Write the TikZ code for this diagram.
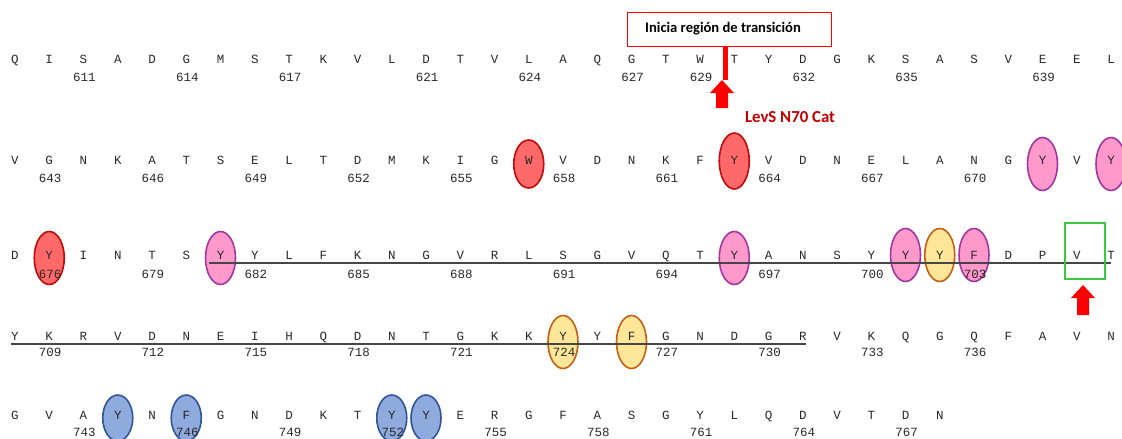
\documentclass[tikz,border=0pt]{standalone}
\usepackage{fontspec}
\setmonofont{Liberation Mono}
\newfontfamily\calib{Carlito}
\usetikzlibrary{shapes.geometric,calc}
\pgfdeclarelayer{bg}
\pgfsetlayers{bg,main}
\definecolor{seqgray}{RGB}{40,40,40}
\definecolor{redfill}{RGB}{255,105,105}
\definecolor{redline}{RGB}{192,10,10}
\definecolor{pinkfill}{RGB}{255,153,204}
\definecolor{pinkline}{RGB}{160,55,160}
\definecolor{orfill}{RGB}{255,230,153}
\definecolor{orline}{RGB}{197,95,20}
\definecolor{blfill}{RGB}{143,170,220}
\definecolor{blline}{RGB}{47,85,151}
\definecolor{grline}{RGB}{60,200,60}
\definecolor{arrred}{RGB}{255,0,0}
\definecolor{darkred}{RGB}{192,0,0}
\definecolor{linegray}{RGB}{70,70,70}
\begin{document}
\begin{tikzpicture}[x=1pt,y=-1pt,
  aa/.style={font=\ttfamily\fontsize{12.5}{14}\selectfont, text=seqgray, inner sep=0pt, text height=7.2pt, text depth=0pt, anchor=center},
  num/.style={aa},
  ell/.style={ellipse, line width=1.6pt, minimum width=30pt, minimum height=53pt, inner sep=0pt},
  redell/.style={ell, fill=redfill, draw=redline},
  pinkell/.style={ell, fill=pinkfill, draw=pinkline},
  orell/.style={ell, fill=orfill, draw=orline},
  blell/.style={ell, fill=blfill, draw=blline},
  uline/.style={draw=linegray, line width=1.4pt},
  tagbox/.style={draw=red, line width=0.9pt, minimum width=204pt, minimum height=34pt, inner sep=0pt},
  tagtext/.style={inner sep=0pt, font=\calib\bfseries\fontsize{14.6}{16}\selectfont},
  greenbox/.style={draw=grline, line width=1.6pt, minimum width=40pt, minimum height=56pt, inner sep=0pt},
  blockarrow/.style={fill=arrred, draw=none}
]
\useasboundingbox (0,0) rectangle (1122,439);

% row 1
\foreach \c [count=\i from 0] in {Q,I,S,A,D,G,M,S,T,K,V,L,D,T,V,L,A,Q,G,T,W,T,Y,D,G,K,S,A,S,V,E,E,L}
  \node[aa] (r1c\i) at ({15+34.25*\i},60) {\c};
\foreach \i/\n in {2/611,5/614,8/617,12/621,15/624,18/627,20/629,23/632,26/635,30/639}
  \node[num] (n1c\i) at ({16+34.25*\i},78) {\n};

% row 2
\foreach \c [count=\i from 0] in {V,G,N,K,A,T,S,E,L,T,D,M,K,I,G,W,V,D,N,K,F,Y,V,D,N,E,L,A,N,G,Y,V,Y}
  \node[aa] (r2c\i) at ({15+34.25*\i},161) {\c};
\foreach \i/\n in {1/643,4/646,7/649,10/652,13/655,16/658,19/661,22/664,25/667,28/670}
  \node[num] (n2c\i) at ({16+34.25*\i},179) {\n};

% row 3
\foreach \c [count=\i from 0] in {D,Y,I,N,T,S,Y,Y,L,F,K,N,G,V,R,L,S,G,V,Q,T,Y,A,N,S,Y,Y,Y,F,D,P,V,T}
  \node[aa] (r3c\i) at ({15+34.25*\i},256) {\c};
\foreach \i/\n in {1/676,4/679,7/682,10/685,13/688,16/691,19/694,22/697,25/700,28/703}
  \node[num] (n3c\i) at ({16+34.25*\i},275) {\n};

% row 4
\foreach \c [count=\i from 0] in {Y,K,R,V,D,N,E,I,H,Q,D,N,T,G,K,K,Y,Y,F,G,N,D,G,R,V,K,Q,G,Q,F,A,V,N}
  \node[aa] (r4c\i) at ({15+34.25*\i},337) {\c};
\foreach \i/\n in {1/709,4/712,7/715,10/718,13/721,16/724,19/727,22/730,25/733,28/736}
  \node[num] (n4c\i) at ({16+34.25*\i},353) {\n};

% row 5
\foreach \c [count=\i from 0] in {G,V,A,Y,N,F,G,N,D,K,T,Y,Y,E,R,G,F,A,S,G,Y,L,Q,D,V,T,D,N}
  \node[aa] (r5c\i) at ({15+34.25*\i},416) {\c};
\foreach \i/\n in {2/743,5/746,8/749,11/752,14/755,17/758,20/761,23/764,26/767}
  \node[num] (n5c\i) at ({16+34.25*\i},433) {\n};

% highlight ellipses
\begin{pgfonlayer}{bg}
  \node[redell, minimum height=48pt] (e1) at ($(r2c15)+(0,3)$) {};
  \node[redell, minimum height=56pt] (e2) at ($(r2c21)+(0,0)$) {};
  \node[pinkell] (e3) at ($(r2c30)+(0,3)$) {};
  \node[pinkell] (e4) at ($(r2c32)+(0,3)$) {};
  \node[redell] (e5) at ($(r3c1)+(0,2)$) {};
  \node[pinkell] (e6) at ($(r3c6)+(0,2)$) {};
  \node[pinkell] (e7) at ($(r3c21)+(0,2)$) {};
  \node[pinkell] (e8) at ($(r3c26)+(0,-1)$) {};
  \node[orell] (e9) at ($(r3c27)+(0,-1)$) {};
  \node[pinkell] (e10) at ($(r3c28)+(0,-1)$) {};
  \node[orell] (e11) at ($(r4c16)+(0,5)$) {};
  \node[orell] (e12) at ($(r4c18)+(0,5)$) {};
  \node[blell, minimum height=46pt] (e13) at ($(r5c3)+(0,2)$) {};
  \node[blell, minimum height=46pt] (e14) at ($(r5c5)+(0,2)$) {};
  \node[blell, minimum height=46pt] (e15) at ($(r5c11)+(0,2)$) {};
  \node[blell, minimum height=46pt] (e16) at ($(r5c12)+(0,2)$) {};
\end{pgfonlayer}

% underlines
\coordinate (u3a) at (209,263);
\coordinate (u3b) at (1111,263);
\draw[uline] (u3a) -- (u3b);
\coordinate (u4a) at (11,344);
\coordinate (u4b) at (806,344);
\draw[uline] (u4a) -- (u4b);

% transition label
\node[tagbox] (tag) at (729,29) {};
\node[tagtext] (tagt) at (723,29) {Inicia región de transición};
\coordinate (bartop) at (725,46);
\coordinate (barbot) at (725,80);
\draw[draw=arrred, line width=5pt] (tag.south -| bartop) -- (barbot);
\fill[blockarrow] (722,80) -- (734,93) -- (728,93) -- (728,108) -- (716,108) -- (716,93) -- (710,93) -- cycle;
\node[font=\calib\bfseries\fontsize{16.8}{18}\selectfont, text=darkred, anchor=center] (levs) at (790,117) {LevS N70 Cat};

% green box around V
\node[greenbox] (gb) at ($(r3c31)+(8,-5)$) {};
\fill[blockarrow] (1083,285) -- (1095,298) -- (1089,298) -- (1089,315) -- (1077,315) -- (1077,298) -- (1071,298) -- cycle;
\end{tikzpicture}
\end{document}
